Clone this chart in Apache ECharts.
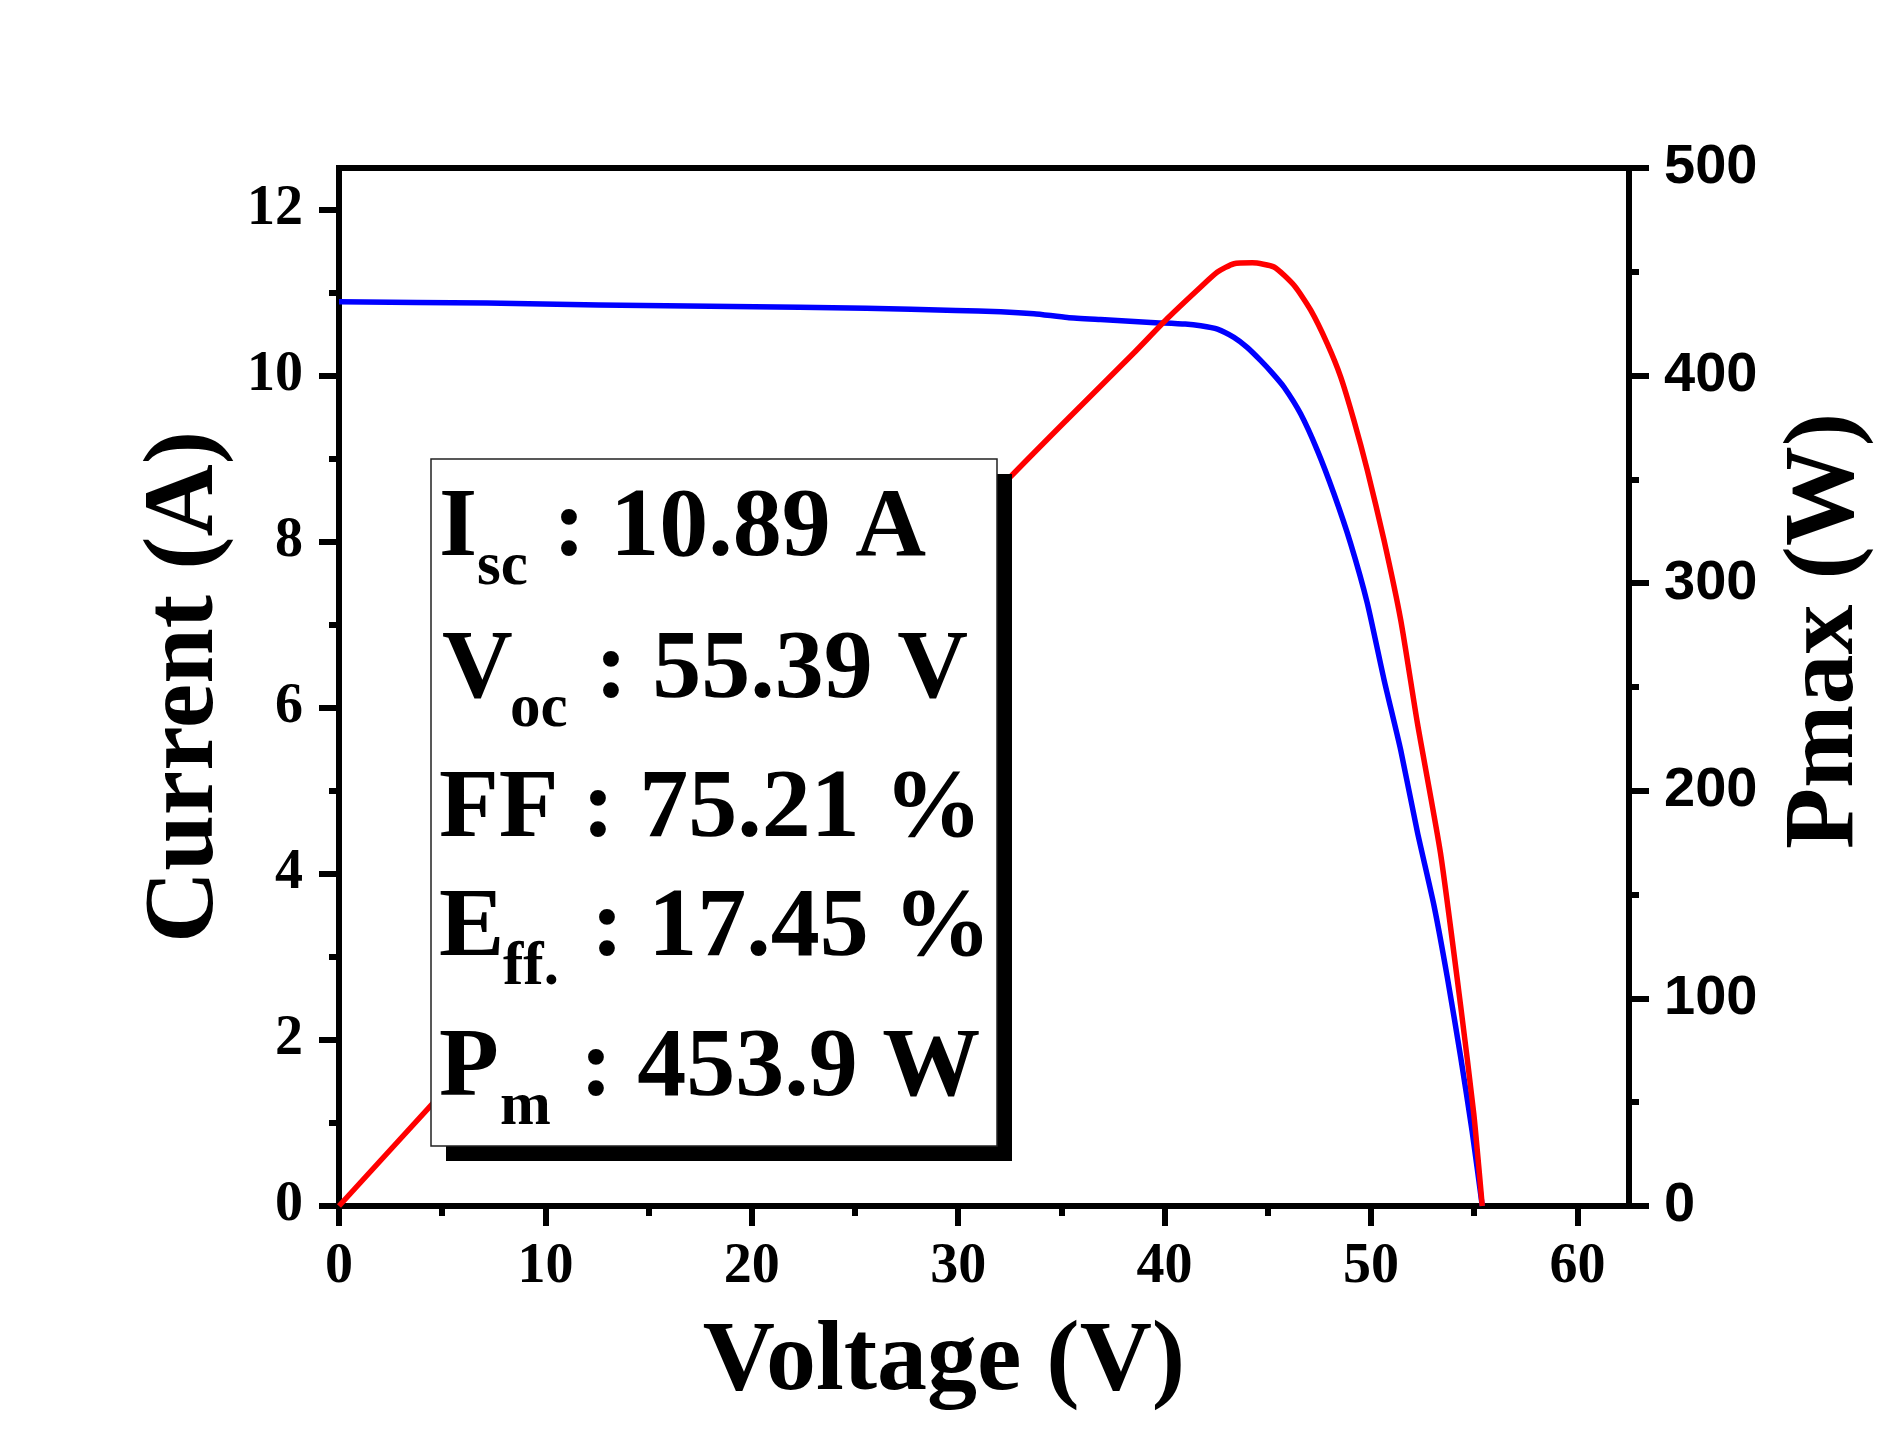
<!DOCTYPE html>
<html><head><meta charset="utf-8">
<script src="https://cdn.jsdelivr.net/npm/echarts@6/dist/echarts.min.js"></script>
<style>html,body{margin:0;padding:0;background:#fff}#c{width:1896px;height:1451px}</style>
</head><body><div id="c"></div>
<script>
// ---- data ----
const ivVoltage = [0, 7.17, 12.58, 19.06, 25.55, 29.88, 32.06, 33.67, 35.29, 36.9, 39.33, 41.0, 41.75, 42.56, 43.36, 44.0, 44.66, 45.22, 45.79, 46.59, 47.4, 48.2, 49.01, 49.82, 50.63, 51.44, 52.25, 53.05, 53.7, 54.34, 54.9, 55.39];
const ivCurrent = [10.89, 10.873, 10.85, 10.833, 10.81, 10.785, 10.77, 10.745, 10.70, 10.675, 10.64, 10.62, 10.60, 10.56, 10.46, 10.34, 10.18, 10.03, 9.86, 9.54, 9.10, 8.58, 7.98, 7.26, 6.34, 5.49, 4.50, 3.62, 2.75, 1.80, 0.90, 0];
const pvVoltage = [0, 5, 10, 15, 20, 25, 30, 32.54, 35.29, 38.52, 40.13, 41.75, 42.56, 43.36, 44.25, 45.3, 46.27, 47.08, 47.88, 48.53, 49.17, 49.82, 50.63, 51.44, 52.25, 53.37, 54.34, 54.98, 55.39];
const pvPower = [0, 54.4, 108.6, 162.7, 216.6, 270.3, 323.6, 351.3, 379, 411, 427.5, 442.7, 449.9, 453.9, 454.3, 452.3, 443.5, 431.5, 415.4, 399.4, 378.5, 354.5, 320.8, 282.3, 232.5, 169.8, 96.7, 44.4, 0];
const xMajorTicks = [0, 10, 20, 30, 40, 50, 60];
const xMinorTicks = [5, 15, 25, 35, 45, 55];
const currentMajorTicks = [0, 2, 4, 6, 8, 10, 12];
const currentMinorTicks = [1, 3, 5, 7, 9, 11];
const powerMajorTicks = [0, 100, 200, 300, 400, 500];
const powerMinorTicks = [50, 150, 250, 350, 450];
const statNames = ['I', 'V', 'FF', 'E', 'P'];
const statSubs = ['sc', 'oc', '', 'ff.', 'm'];
const statValues = [': 10.89 A', ': 55.39 V', ': 75.21 %', ': 17.45 %', ': 453.9 W'];

// ---- layout / style ----
const SERIF = "'Liberation Serif','Times New Roman',serif";
const SANS = "'Liberation Sans',Arial,sans-serif";
const K = '#000';
const lineBaselines = [563, 704.5, 844, 962.5, 1103];
const mainX = [439, 442, 439, 439, 439];
const subX = [477, 510, 0, 503, 500];
const colonX = [553, 595, 582, 591, 580];

const chart = echarts.init(document.getElementById('c'), null, {renderer: 'canvas'});

function frameAxis(extra) {
  return Object.assign({
    type: 'value',
    splitLine: {show: false},
    axisLine: {show: true, onZero: false, lineStyle: {color: K, width: 6, cap: 'square'}},
    axisTick: {show: false},
    axisLabel: {show: false}
  }, extra);
}
function minorAxis(extra, ticks) {
  return Object.assign({
    type: 'value',
    splitLine: {show: false},
    axisLine: {show: false, onZero: false},
    axisTick: {show: true, inside: false, length: 10, lineStyle: {color: K, width: 6}, customValues: ticks},
    axisLabel: {show: false}
  }, extra);
}

const graphics = [
  {type: 'rect', z: 100, shape: {x: 446, y: 474, width: 566, height: 687}, style: {fill: '#000'}},
  {type: 'rect', z: 101, shape: {x: 431, y: 459, width: 566, height: 687}, style: {fill: '#fff', stroke: '#222', lineWidth: 1.5}}
];
statNames.forEach((n, i) => {
  const b = lineBaselines[i];
  graphics.push({type: 'text', z: 102, x: mainX[i], y: b - 33, style: {text: n, fontFamily: SERIF, fontWeight: 'bold', fontSize: 98, fill: K, align: 'left', verticalAlign: 'middle'}});
  if (statSubs[i]) {
    graphics.push({type: 'text', z: 102, x: subX[i], y: b + 26 - 20.6, style: {text: statSubs[i], fontFamily: SERIF, fontWeight: 'bold', fontSize: 61, fill: K, align: 'left', verticalAlign: 'middle'}});
  }
  graphics.push({type: 'text', z: 102, x: colonX[i], y: b - 33, style: {text: statValues[i], fontFamily: SERIF, fontWeight: 'bold', fontSize: 98, fill: K, align: 'left', verticalAlign: 'middle'}});
});

const option = {
  backgroundColor: '#fff',
  animation: false,
  grid: {left: 339, right: 267, top: 168, bottom: 245, containLabel: false},
  xAxis: [
    frameAxis({
      min: 0, max: 62.5, position: 'bottom',
      axisTick: {show: true, inside: false, length: 20, lineStyle: {color: K, width: 6}, customValues: xMajorTicks},
      axisLabel: {show: true, customValues: xMajorTicks, margin: 34, fontFamily: SERIF, fontWeight: 'bold', fontSize: 56, color: K},
      name: 'Voltage (V)', nameLocation: 'middle', nameGap: 107,
      nameTextStyle: {fontFamily: SERIF, fontWeight: 'bold', fontSize: 100, color: K, padding: [0, 80, 0, 0]}
    }),
    minorAxis({min: 0, max: 62.5, position: 'bottom'}, xMinorTicks),
    frameAxis({min: 0, max: 62.5, position: 'top'})
  ],
  yAxis: [
    frameAxis({
      min: 0, max: 12.5, position: 'left',
      axisTick: {show: true, inside: false, length: 20, lineStyle: {color: K, width: 6}, customValues: currentMajorTicks},
      axisLabel: {show: true, customValues: currentMajorTicks, margin: 36, fontFamily: SERIF, fontWeight: 'bold', fontSize: 56, color: K},
      name: 'Current (A)', nameLocation: 'middle', nameRotate: 90, nameGap: 89,
      nameTextStyle: {fontFamily: SERIF, fontWeight: 'bold', fontSize: 100, color: K}
    }),
    frameAxis({
      min: 0, max: 500, position: 'right',
      axisTick: {show: true, inside: false, length: 20, lineStyle: {color: K, width: 6}, customValues: powerMajorTicks},
      axisLabel: {show: true, customValues: powerMajorTicks, margin: 35, fontFamily: SANS, fontWeight: 'bold', fontSize: 56, color: K},
      name: 'Pmax (W)', nameLocation: 'middle', nameRotate: 90, nameGap: 147,
      nameTextStyle: {fontFamily: SERIF, fontWeight: 'bold', fontSize: 100, color: K, padding: [0, 0, 0, 112]}
    }),
    minorAxis({min: 0, max: 12.5, position: 'left'}, currentMinorTicks),
    minorAxis({min: 0, max: 500, position: 'right'}, powerMinorTicks)
  ],
  series: [
    {
      name: 'Current', type: 'line', xAxisIndex: 0, yAxisIndex: 0,
      data: ivVoltage.map((v, i) => [v, ivCurrent[i]]),
      showSymbol: false, smooth: 0.2,
      lineStyle: {color: '#0000ff', width: 5.5, join: 'round'}, z: 3
    },
    {
      name: 'Power', type: 'line', xAxisIndex: 0, yAxisIndex: 1,
      data: pvVoltage.map((v, i) => [v, pvPower[i]]),
      showSymbol: false, smooth: 0.2,
      lineStyle: {color: '#ff0000', width: 5.5, join: 'round'}, z: 4
    }
  ],
  graphic: graphics
};
chart.setOption(option);
</script></body></html>
